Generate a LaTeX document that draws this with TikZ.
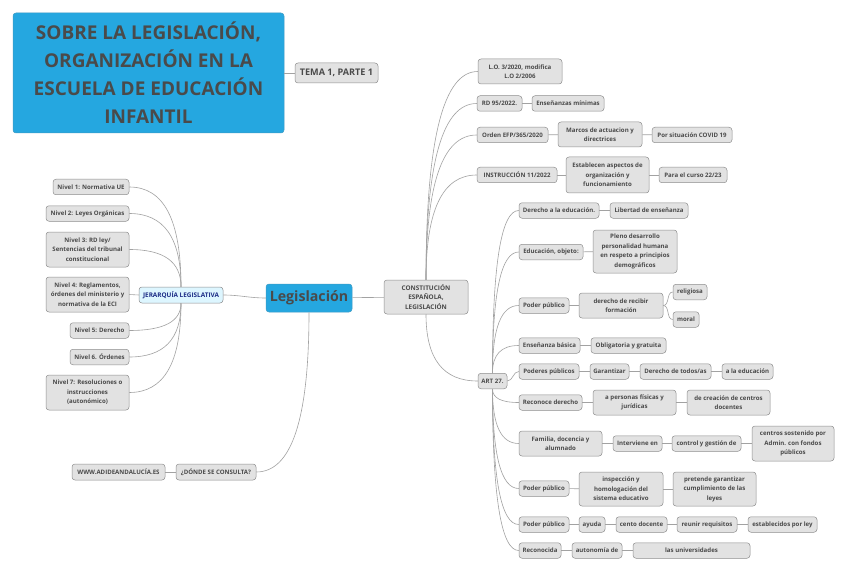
\documentclass[tikz,border=0pt]{standalone}
\usepackage{fontspec}
\setmainfont{Open Sans}
\usetikzlibrary{positioning, calc}

\definecolor{mapblue}{HTML}{25A7E0}
\definecolor{mapfill}{HTML}{E2E2E2}
\definecolor{mapedge}{HTML}{8E8E8E}
\definecolor{maptext}{HTML}{4A4A4A}
\definecolor{mapline}{HTML}{A2A2A2}
\definecolor{jerfill}{HTML}{DDF6FF}
\definecolor{jertext}{HTML}{1C2C86}

\begin{document}
\begin{tikzpicture}[x=1pt, y=1pt,
    topic/.style={draw=mapedge, fill=mapfill, rounded corners=3pt, text=maptext,
        font=\fontsize{6.1}{9.5}\selectfont\bfseries, inner xsep=2pt, inner ysep=0pt,
        minimum height=15.5pt, align=center, line width=0.5pt},
    link/.style={draw=mapline, line width=0.6pt},
    branch/.style={to path={.. controls ($(\tikztostart)!.67!(\tikztostart |- \tikztotarget)$)
        and ($(\tikztotarget)!.67!(\tikztostart |- \tikztotarget)$) .. (\tikztotarget)}}]
    \useasboundingbox[fill=white] (0,0) rectangle (848,-572);

    % Title and central topic
    \node[topic, fill=mapblue, draw=mapblue!70!gray, minimum width=271, minimum height=120,
        font=\fontsize{19}{28}\selectfont\bfseries] (title) at (148.5,-73)
        {SOBRE LA LEGISLACIÓN,\\ORGANIZACIÓN EN LA\\ESCUELA DE EDUCACIÓN\\INFANTIL};
    \node[topic, minimum width=83, minimum height=20, font=\fontsize{9.1}{10}\selectfont\bfseries]
        (tema) at (336.5,-73) {TEMA 1, PARTE 1};
    \node[topic, fill=mapblue, draw=mapblue!70!gray, minimum width=86, minimum height=28,
        font=\fontsize{14.2}{16}\selectfont\bfseries] (leg) at (309,-298) {Legislación};
    \node[topic, minimum width=84, minimum height=34, font=\fontsize{6.4}{9.5}\selectfont\bfseries]
        (cons) at (426,-297) {CONSTITUCIÓN\\ESPAÑOLA,\\LEGISLACIÓN};
    \node[topic, fill=jerfill, text=jertext, minimum width=84, minimum height=16,
        font=\fontsize{6.4}{9.5}\selectfont\bfseries] (jer) at (181,-295) {JERARQUÍA LEGISLATIVA};

    % Jerarquia (left)
    \node[topic, minimum width=76] (niv1) at (91,-187) {Nivel 1: Normativa UE};
    \node[topic, minimum width=83] (niv2) at (87.5,-213.5) {Nivel 2: Leyes Orgánicas};
    \node[topic, minimum width=83, minimum height=35] (niv3) at (87.5,-249.5)
        {Nivel 3: RD ley/\\Sentencias del tribunal\\constitucional};
    \node[topic, minimum width=83, minimum height=35] (niv4) at (87.5,-294.5)
        {Nivel 4: Reglamentos,\\órdenes del ministerio y\\normativa de la ECI};
    \node[topic, minimum width=59] (niv5) at (99.5,-330.5) {Nivel 5: Derecho};
    \node[topic, minimum width=59] (niv6) at (99.5,-357) {Nivel 6. Órdenes};
    \node[topic, minimum width=83, minimum height=35] (niv7) at (87.5,-392.5)
        {Nivel 7: Resoluciones o\\instrucciones\\(autonómico)};

    % Donde se consulta
    \node[topic, minimum width=80, minimum height=16] (donde) at (216,-472) {¿DÓNDE SE CONSULTA?};
    \node[topic, minimum width=93, minimum height=16] (www) at (118.5,-472) {WWW.ADIDEANDALUCÍA.ES};

    % Normas (top right)
    \node[topic, minimum width=84, minimum height=25] (lo) at (520,-71.5) {L.O. 3/2020, modifica\\L.O 2/2006};
    \node[topic, minimum width=45] (rd) at (499.5,-103.5) {RD 95/2022.};
    \node[topic, minimum width=72] (ens) at (568,-103.5) {Enseñanzas mínimas};
    \node[topic, minimum width=71] (orden) at (512.5,-135) {Orden EFP/365/2020};
    \node[topic, minimum width=84, minimum height=25] (marcos) at (600,-134.5) {Marcos de actuacion y\\directrices};
    \node[topic, minimum width=80] (covid) at (692,-135) {Por situación COVID 19};
    \node[topic, minimum width=80] (instr) at (517,-175) {INSTRUCCIÓN 11/2022};
    \node[topic, minimum width=83, minimum height=36] (aspectos) at (607.5,-175)
        {Establecen aspectos de\\organización y\\funcionamiento};
    \node[topic, minimum width=68] (curso) at (693,-175) {Para el curso 22/23};

    % Art. 27
    \node[topic, minimum width=29] (art) at (492.5,-381) {ART 27.};
    \node[topic, minimum width=80] (der) at (559,-210.5) {Derecho a la educación.};
    \node[topic, minimum width=78] (lib) at (649,-210.5) {Libertad de enseñanza};
    \node[topic, minimum width=64] (edu) at (551,-252) {Educación, objeto:};
    \node[topic, minimum width=84, minimum height=43] (pleno) at (635,-251.5)
        {Pleno desarrollo\\personalidad humana\\en respeto a principios\\demográficos};
    \node[topic, minimum width=50] (podA) at (544,-305.5) {Poder público};
    \node[topic, minimum width=84, minimum height=25] (form) at (621,-305.5) {derecho de recibir\\formación};
    \node[topic, minimum width=34] (relig) at (690,-292) {religiosa};
    \node[topic, minimum width=26] (moral) at (686,-319.5) {moral};
    \node[topic, minimum width=61] (basica) at (549.5,-345.5) {Enseñanza básica};
    \node[topic, minimum width=75] (oblig) at (628.5,-345.5) {Obligatoria y gratuita};
    \node[topic, minimum width=60] (poderes) at (549,-371.5) {Poderes públicos};
    \node[topic, minimum width=39] (gar) at (609.5,-371.5) {Garantizar};
    \node[topic, minimum width=71] (todos) at (675.5,-371.5) {Derecho de todos/as};
    \node[topic, minimum width=51] (alaedu) at (747.5,-371.5) {a la educación};
    \node[topic, minimum width=63] (recon) at (550.5,-402.5) {Reconoce derecho};
    \node[topic, minimum width=83, minimum height=25] (pers) at (634.5,-402.5) {a personas físicas y\\jurídicas};
    \node[topic, minimum width=83, minimum height=25] (creac) at (728.5,-402.5) {de creación de centros\\docentes};
    \node[topic, minimum width=83, minimum height=25] (fam) at (560.5,-443.5) {Familia, docencia y\\alumnado};
    \node[topic, minimum width=49] (interv) at (637.5,-443.5) {Interviene en};
    \node[topic, minimum width=69] (ctrl) at (706.5,-443.5) {control y gestión de};
    \node[topic, minimum width=82, minimum height=35] (centros) at (793,-443.5)
        {centros sostenido por\\Admin. con fondos\\públicos};
    \node[topic, minimum width=50] (podB) at (544,-488.5) {Poder público};
    \node[topic, minimum width=84, minimum height=34] (insp) at (621,-489)
        {inspección y\\homologación del\\sistema educativo};
    \node[topic, minimum width=83, minimum height=34] (pret) at (714.5,-489)
        {pretende garantizar\\cumplimiento de las\\leyes};
    \node[topic, minimum width=50] (podC) at (544,-524.5) {Poder público};
    \node[topic, minimum width=26] (ayuda) at (592,-524.5) {ayuda};
    \node[topic, minimum width=51] (cento) at (641.5,-524.5) {cento docente};
    \node[topic, minimum width=60] (reunir) at (707,-524.5) {reunir requisitos};
    \node[topic, minimum width=69] (ley) at (782.5,-524.5) {establecidos por ley};
    \node[topic, minimum width=42] (reconoc) at (540,-550.5) {Reconocida};
    \node[topic, minimum width=50] (auton) at (597,-550.5) {autonomía de};
    \node[topic, minimum width=117] (univ) at (691.5,-550.5) {las universidades};

    % Connectors
    \begin{scope}[on background layer/.try]
    \draw[link] (title) -- (tema);
    \draw[link] (leg) -- (cons);
    \draw[link] (leg.west) to[out=180,in=0] (jer.east);
    \draw[link, branch] (leg.south) to (donde.east);
    \draw[link] (donde) -- (www);
    \foreach \n in {niv1, niv2, niv3}
        \draw[link, branch] (jer.north) to (\n.east);
    \draw[link] (jer.west) -- (niv4.east);
    \foreach \n in {niv5, niv6, niv7}
        \draw[link, branch] (jer.south) to (\n.east);
    \foreach \n in {lo, rd, orden, instr}
        \draw[link, branch] (cons.north) to (\n.west);
    \draw[link, branch] (cons.south) to (art.west);
    \foreach \n in {der, edu, podA, basica}
        \draw[link, branch] (art.north) to (\n.west);
    \draw[link] (art.east) to[out=0,in=180] (poderes.west);
    \foreach \n in {recon, fam, podB, podC, reconoc}
        \draw[link, branch] (art.south) to (\n.west);
    \draw[link] (form.east) to[out=0,in=180] (relig.west);
    \draw[link] (form.east) to[out=0,in=180] (moral.west);
    \foreach \a/\b in {rd/ens, orden/marcos, marcos/covid, instr/aspectos, aspectos/curso,
        der/lib, edu/pleno, podA/form, basica/oblig, poderes/gar, gar/todos, todos/alaedu,
        recon/pers, pers/creac, fam/interv, interv/ctrl, ctrl/centros, podB/insp, insp/pret,
        podC/ayuda, ayuda/cento, cento/reunir, reunir/ley, reconoc/auton, auton/univ}
        \draw[link] (\a) -- (\b);
    \end{scope}
\end{tikzpicture}
\end{document}
